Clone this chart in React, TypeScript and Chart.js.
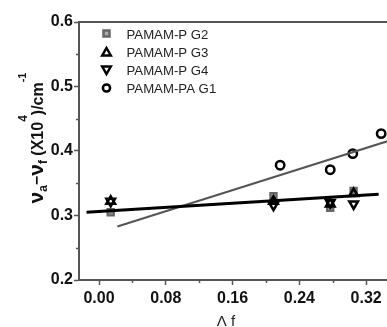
import React, { useEffect, useRef } from 'react';
import { Chart, registerables } from 'chart.js';

Chart.register(...registerables);

// ---- data ----
const seriesLabels = ['PAMAM-P G2', 'PAMAM-P G3', 'PAMAM-P G4', 'PAMAM-PA G1'];
const lambdaP = [0.014, 0.209, 0.277, 0.305];
const g2Values = [0.305, 0.330, 0.312, 0.338];
const g3Values = [0.322, 0.322, 0.318, 0.334];
const g4Values = [0.322, 0.316, 0.320, 0.318];
const lambdaPA = [0.217, 0.277, 0.304, 0.338];
const paG1Values = [0.378, 0.371, 0.396, 0.427];
const fitPX = [-0.015, 0.335];
const fitPY = [0.305, 0.333];
const fitPAX = [0.022, 0.36];
const fitPAY = [0.283, 0.421];
const xTicks = [0, 0.08, 0.16, 0.24, 0.32];
const xMinorTicks = [0.04, 0.12, 0.2, 0.28];
const yTicks = [0.2, 0.3, 0.4, 0.5, 0.6];
const yMinorTicks = [0.25, 0.35, 0.45, 0.55];
const xTitle = 'Λ f';

const FONT = "'Liberation Sans', Arial, Helvetica, sans-serif";
const AXIS = '#555';

const pts = (xs: number[], ys: number[]) => xs.map((x, i) => ({ x, y: ys[i] }));

const decor = {
  id: 'decor',
  afterDraw(chart: any) {
    const { ctx, chartArea: ca, scales } = chart;
    const x = scales.x;
    const y = scales.y;
    ctx.save();
    // top frame line
    ctx.strokeStyle = AXIS;
    ctx.lineWidth = 2;
    ctx.beginPath();
    ctx.moveTo(ca.left - 1, ca.top);
    ctx.lineTo(ca.right + 2, ca.top);
    ctx.stroke();
    // minor ticks
    ctx.lineWidth = 1.5;
    ctx.beginPath();
    xMinorTicks.forEach((v) => {
      const px = Math.round(x.getPixelForValue(v)) + 0.5;
      ctx.moveTo(px, ca.bottom);
      ctx.lineTo(px, ca.bottom + 3);
    });
    yMinorTicks.forEach((v) => {
      const py = Math.round(y.getPixelForValue(v)) + 0.5;
      ctx.moveTo(ca.left, py);
      ctx.lineTo(ca.left - 3, py);
    });
    ctx.stroke();

    // legend
    const rows = [35.5, 54, 72, 90];
    const sx = 106.5;
    rows.forEach((ty, i) => {
      const ry = ty - 2;
      ctx.save();
      if (i === 0) {
        ctx.fillStyle = '#aaa';
        ctx.strokeStyle = '#666';
        ctx.lineWidth = 2.5;
        ctx.fillRect(sx - 3, ry - 3, 6, 6);
        ctx.strokeRect(sx - 3, ry - 3, 6, 6);
      } else if (i === 1 || i === 2) {
        const s = i === 1 ? 1 : -1;
        ctx.strokeStyle = '#000';
        ctx.fillStyle = '#fff';
        ctx.lineWidth = 2.5;
        ctx.lineJoin = 'miter';
        ctx.beginPath();
        ctx.moveTo(sx, ry - 4 * s);
        ctx.lineTo(sx + 4.3, ry + 3.5 * s);
        ctx.lineTo(sx - 4.3, ry + 3.5 * s);
        ctx.closePath();
        ctx.fill();
        ctx.stroke();
      } else {
        ctx.strokeStyle = '#000';
        ctx.lineWidth = 2.5;
        ctx.beginPath();
        ctx.arc(sx, ry, 3.6, 0, Math.PI * 2);
        ctx.stroke();
      }
      ctx.restore();
      ctx.save();
      ctx.fillStyle = '#222';
      ctx.font = `12px ${FONT}`;
      ctx.textBaseline = 'middle';
      ctx.translate(126.5, ty);
      ctx.scale(1.1, 1);
      ctx.fillText(seriesLabels[i], 0, 0);
      ctx.restore();
    });

    // y title (rich text, rotated)
    const parts = [
      { t: 'ν', size: 21, dy: 0 },
      { t: 'a', size: 12, dy: 4 },
      { t: '−', size: 16, dy: -1 },
      { t: 'ν', size: 21, dy: 0 },
      { t: 'f', size: 12, dy: 4 },
      { t: ' (X10', size: 16, dy: 0 },
      { t: '4', size: 12, dy: -16 },
      { t: ')/cm', size: 16, dy: 0 },
      { t: '-1', size: 11, dy: -17 },
    ];
    ctx.save();
    ctx.fillStyle = '#111';
    let total = 0;
    const widths = parts.map((p) => {
      ctx.font = `bold ${p.size}px ${FONT}`;
      const w = ctx.measureText(p.t).width;
      total += w;
      return w;
    });
    const centerY = 138;
    ctx.translate(43, centerY + total / 2);
    ctx.rotate(-Math.PI / 2);
    ctx.textBaseline = 'alphabetic';
    let u = 0;
    parts.forEach((p, i) => {
      ctx.font = `bold ${p.size}px ${FONT}`;
      ctx.fillText(p.t, u, p.dy);
      u += widths[i];
    });
    ctx.restore();

    // x title
    ctx.save();
    ctx.fillStyle = '#222';
    ctx.font = `15px ${FONT}`;
    ctx.textAlign = 'center';
    ctx.textBaseline = 'alphabetic';
    ctx.fillText(xTitle, 226, 326);
    ctx.restore();

    ctx.restore();
  },
};

export default function App() {
  const ref = useRef<HTMLCanvasElement | null>(null);
  useEffect(() => {
    if (!ref.current) return;
    const chart = new Chart(ref.current, {
      type: 'scatter',
      data: {
        datasets: [
          {
            label: 'fit P',
            data: pts(fitPX, fitPY),
            showLine: true,
            pointRadius: 0,
            borderColor: '#000',
            borderWidth: 3,
          } as any,
          {
            label: 'fit PA',
            data: pts(fitPAX, fitPAY),
            showLine: true,
            pointRadius: 0,
            borderColor: '#555',
            borderWidth: 2,
          } as any,
          {
            label: seriesLabels[2],
            data: pts(lambdaP, g4Values),
            pointStyle: 'triangle',
            rotation: 180,
            radius: 5,
            backgroundColor: 'rgba(255,255,255,0)',
            borderColor: '#000',
            borderWidth: 2.5,
          } as any,
          {
            label: seriesLabels[1],
            data: pts(lambdaP, g3Values),
            pointStyle: 'triangle',
            radius: 5,
            backgroundColor: 'rgba(255,255,255,0)',
            borderColor: '#000',
            borderWidth: 2.5,
          } as any,
          {
            label: seriesLabels[0],
            data: pts(lambdaP, g2Values),
            pointStyle: 'rect',
            radius: 4.5,
            backgroundColor: '#888',
            borderColor: '#666',
            borderWidth: 2,
          } as any,
          {
            label: seriesLabels[3],
            data: pts(lambdaPA, paG1Values),
            pointStyle: 'circle',
            radius: 4.2,
            backgroundColor: 'rgba(255,255,255,0)',
            borderColor: '#000',
            borderWidth: 2.5,
          } as any,
        ],
      },
      options: {
        animation: false,
        responsive: false,
        layout: { autoPadding: false, padding: { top: 22, right: 0, left: 0, bottom: 0 } },
        plugins: { legend: { display: false }, tooltip: { enabled: false } },
        scales: {
          x: {
            type: 'linear',
            min: -0.024,
            max: 0.345,
            afterBuildTicks: (s: any) => {
              s.ticks = xTicks.map((v) => ({ value: v }));
            },
            afterFit: (s: any) => {
              s.height = 47;
              s.paddingLeft = 0;
              s.paddingRight = 0;
            },
            grid: {
              display: true,
              drawOnChartArea: false,
              drawTicks: true,
              tickLength: 5,
              tickColor: AXIS,
              tickWidth: 1.5,
            },
            border: { display: true, color: AXIS, width: 2 },
            ticks: {
              color: '#111',
              padding: 4,
              maxRotation: 0,
              font: { family: FONT, size: 16, weight: 'bold' },
              callback: (v: any) => Number(v).toFixed(2),
            },
          },
          y: {
            type: 'linear',
            min: 0.2,
            max: 0.6,
            afterBuildTicks: (s: any) => {
              s.ticks = yTicks.map((v) => ({ value: v }));
            },
            afterFit: (s: any) => {
              s.width = 79;
              s.paddingTop = 0;
              s.paddingBottom = 0;
            },
            grid: {
              display: true,
              drawOnChartArea: false,
              drawTicks: true,
              tickLength: 5,
              tickColor: AXIS,
              tickWidth: 1.5,
            },
            border: { display: true, color: AXIS, width: 2 },
            ticks: {
              color: '#111',
              padding: 1,
              font: { family: FONT, size: 16, weight: 'bold' },
              callback: (v: any) => Number(v).toFixed(1),
            },
          },
        },
      } as any,
      plugins: [decor],
    });
    return () => chart.destroy();
  }, []);
  return (
    <div style={{ position: 'fixed', left: 0, top: 0, width: 387, height: 327, background: '#fff' }}>
      <canvas ref={ref} width={387} height={327} style={{ display: 'block' }} />
    </div>
  );
}
